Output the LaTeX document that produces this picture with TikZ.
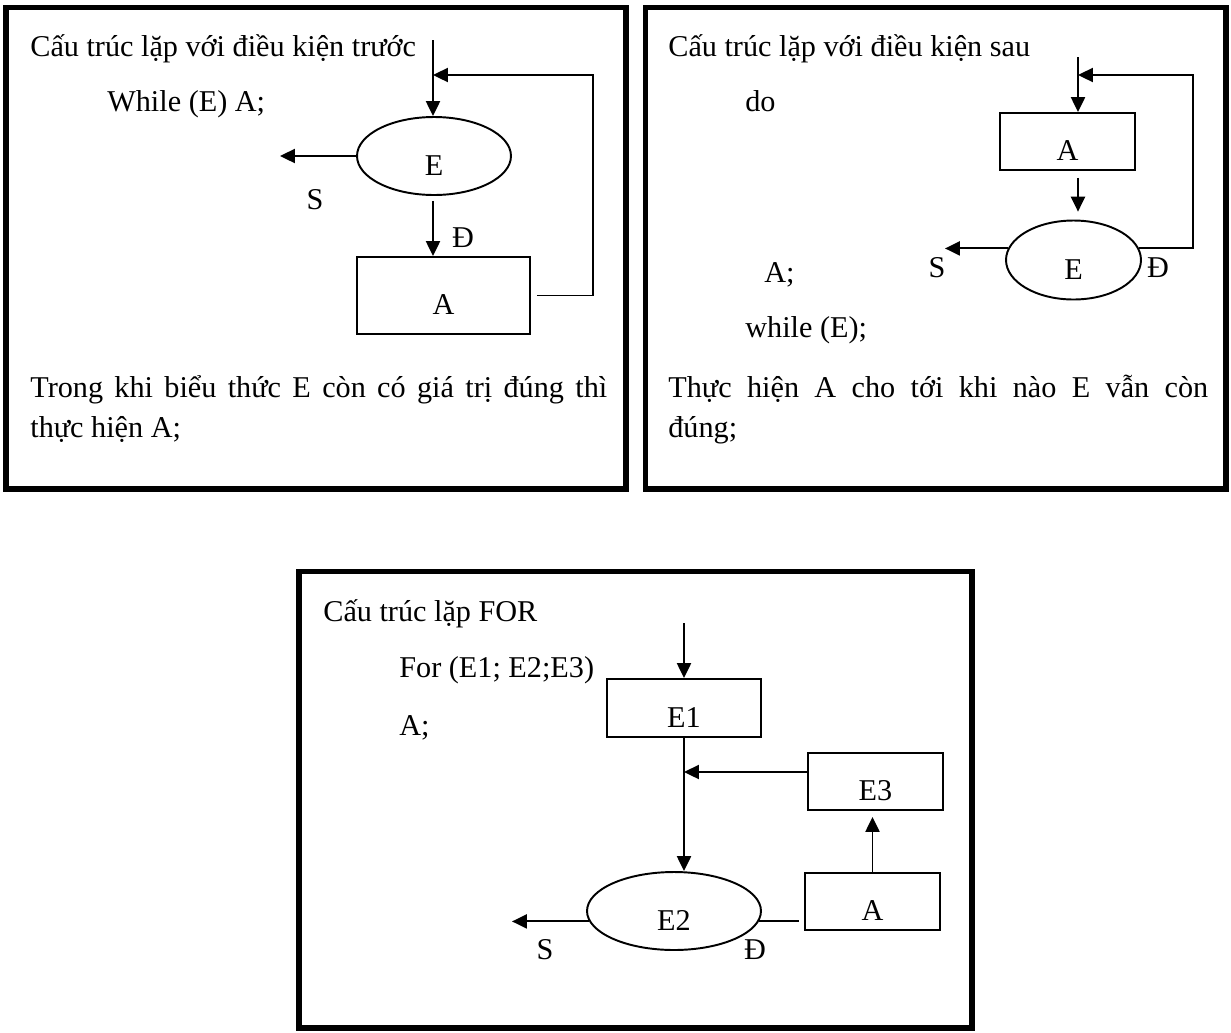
\documentclass[tikz,border=0pt]{standalone}
\usepackage{fontspec}
\setmainfont{Liberation Serif}
\usetikzlibrary{arrows.meta,shapes.geometric}

\begin{document}
\begin{tikzpicture}[x=0.02cm, y=-0.02cm, >={Triangle[length=8.5pt,width=8pt]},
	font=\fontsize{17.2}{20}\selectfont,
	frame/.style={line width=3pt},
	conn/.style={line width=1.1pt},
	box/.style={draw, rectangle, line width=1.1pt, inner sep=0pt, text height=0.76cm, text depth=0pt},
	oval/.style={draw, ellipse, line width=1.1pt, inner sep=0pt, text height=0.76cm, text depth=0pt},
	txt/.style={anchor=base west, inner sep=0pt},
	lbl/.style={inner sep=0pt}]
	\useasboundingbox (0,0) rectangle (1231,1032);

	\draw[frame] (6,7.5) rectangle (626,489);
	\node[txt] (tieude1) at (30,56) {Cấu trúc lặp với điều kiện trước};
	\node[txt] (while1) at (107,111) {While (E) A;};
	\node[oval, minimum width=3.08cm, minimum height=1.56cm] (dk1) at (434,156) {E};
	\node[box, minimum width=3.46cm, minimum height=1.54cm] (lenh1) at (443.5,295.5) {A};
	\node[lbl] (s1) at (315,200) {S};
	\node[lbl] (d1) at (463,238) {Đ};
	\coordinate (vao1) at (433,40);
	\coordinate (ra1) at (280,156);
	\coordinate (ve1) at (593,75);
	\draw[conn,->] (vao1) -- (vao1 |- dk1.north);
	\draw[conn,->] (dk1.west) -- (ra1);
	\draw[conn,->,shorten <=2.8pt] (dk1.south -| vao1) -- (vao1 |- lenh1.north);
	\draw[conn,->,shorten <=3.4pt] (lenh1.east) -| (ve1) -- (vao1 |- ve1);
	\node[txt] (giai1a) at (30,397) {\makebox[11.54cm][s]{Trong khi biểu thức E còn có giá trị đúng thì}};
	\node[txt] (giai1b) at (30,437) {thực hiện A;};

	\draw[frame] (645.5,7.5) rectangle (1226,489);
	\node[txt] (tieude2) at (668,56) {Cấu trúc lặp với điều kiện sau};
	\node[txt] (do2) at (745,111) {do};
	\node[txt] (a2) at (764,282) {A;};
	\node[txt] (while2) at (745,337) {while (E);};
	\node[box, minimum width=2.7cm, minimum height=1.14cm] (lenh2) at (1067.5,141.5) {A};
	\node[oval, minimum width=2.7cm, minimum height=1.58cm] (dk2) at (1073.5,260) {E};
	\node[lbl] (s2) at (937,268) {S};
	\node[lbl] (d2) at (1158,268) {Đ};
	\coordinate (vao2) at (1078,57);
	\coordinate (ra2) at (945,248);
	\coordinate (ve2) at (1193,75);
	\draw[conn,->] (vao2) -- (vao2 |- lenh2.north);
	\draw[conn,->,shorten <=3.9pt,shorten >=4.5pt] (vao2 |- lenh2.south) -- (vao2 |- dk2.north);
	\draw[conn,->] (dk2.170) -- (dk2.170 -| ra2);
	\draw[conn,->] (dk2.10) -| (ve2) -- (vao2 |- ve2);
	\node[txt] (giai2a) at (668,397) {\makebox[10.8cm][s]{Thực hiện A cho tới khi nào E vẫn còn}};
	\node[txt] (giai2b) at (668,437) {đúng;};

	\draw[frame] (299,571.5) rectangle (972,1028);
	\node[txt] (tieude3) at (323,621) {Cấu trúc lặp FOR};
	\node[txt] (for3) at (399,677) {For (E1; E2;E3)};
	\node[txt] (a3) at (399,735) {A;};
	\node[box, minimum width=3.08cm, minimum height=1.16cm] (bt1) at (684,708) {E1};
	\node[box, minimum width=2.7cm, minimum height=1.14cm] (bt3) at (875.5,781.5) {E3};
	\node[box, minimum width=2.7cm, minimum height=1.14cm] (lenh3) at (872.5,901.5) {A};
	\node[oval, minimum width=3.48cm, minimum height=1.56cm] (bt2) at (674,911) {E2};
	\node[lbl] (s3) at (545,950) {S};
	\node[lbl] (d3) at (755,950) {Đ};
	\coordinate (vao3) at (684,623);
	\coordinate (nhap3) at (684,772);
	\coordinate (ra3) at (512,921);
	\draw[conn,->] (vao3) -- (bt1.north);
	\draw[conn,->] (bt1.south) -- (bt1.south |- bt2.north);
	\draw[conn,->] (nhap3 -| bt3.west) -- (nhap3);
	\draw[conn,->,shorten >=3.4pt] (lenh3.north) -- (lenh3.north |- bt3.south);
	\draw[conn,shorten >=2.8pt] (bt2.-7) -- (bt2.-7 -| lenh3.west);
	\draw[conn,->] (bt2.187) -- (bt2.187 -| ra3);
\end{tikzpicture}
\end{document}
